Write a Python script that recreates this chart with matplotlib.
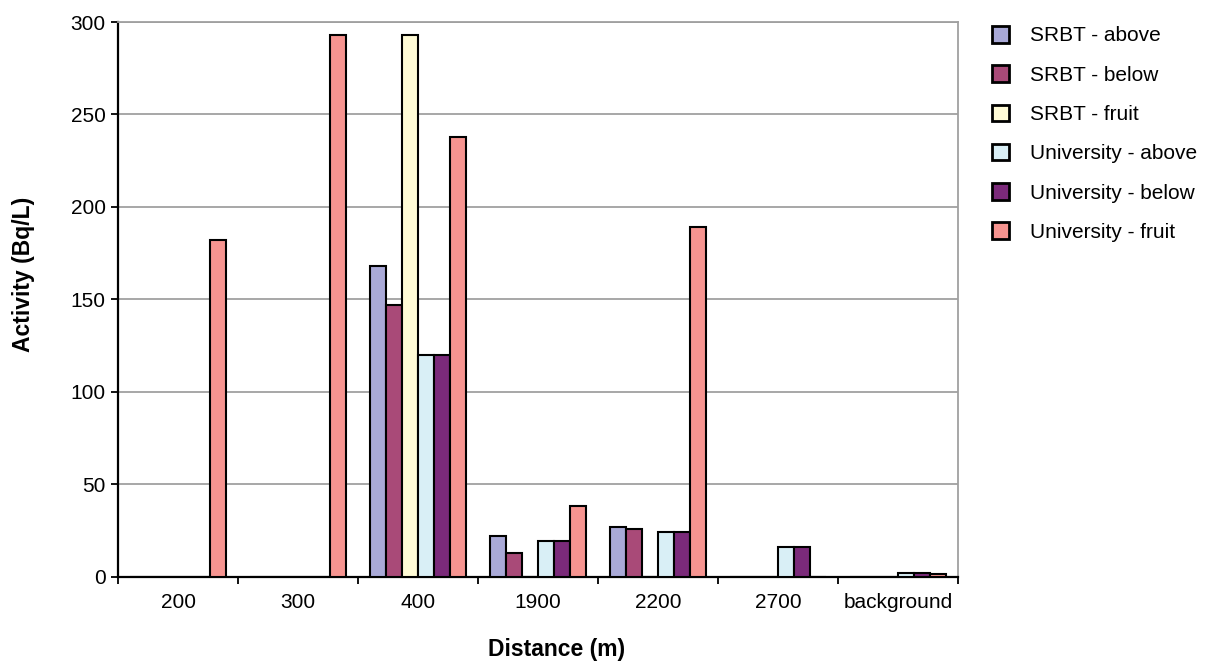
import numpy as np
import matplotlib
matplotlib.use('Agg')
import matplotlib.pyplot as plt

plt.rcParams['font.family'] = ['Liberation Sans', 'DejaVu Sans']

categories = ['200', '300', '400', '1900', '2200', '2700', 'background']
srbt_above = [0, 0, 168, 22, 27, 0, 0]
srbt_below = [0, 0, 147, 13, 26, 0, 0]
srbt_fruit = [0, 0, 293, 0, 0, 0, 0]
univ_above = [0, 0, 120, 19.5, 24.5, 16, 2]
univ_below = [0, 0, 120, 19.5, 24.5, 16, 2]
univ_fruit = [182, 293, 238, 38.5, 189, 0, 1.5]

series = [
    ('SRBT - above', srbt_above, '#A9A9D7'),
    ('SRBT - below', srbt_below, '#A94A78'),
    ('SRBT - fruit', srbt_fruit, '#FFFBD6'),
    ('University - above', univ_above, '#D9EFF6'),
    ('University - below', univ_below, '#7B2A7A'),
    ('University - fruit', univ_fruit, '#F69490'),
]

fig = plt.figure(figsize=(12.08, 6.63), dpi=100)
ax = fig.add_axes([0.0977, 0.130, 0.6953, 0.8368])

x = np.arange(len(categories))
w = 0.8 / len(series)
for i, (name, vals, col) in enumerate(series):
    ax.bar(x - 0.4 + w * (i + 0.5), vals, width=w, color=col,
           edgecolor='black', linewidth=1.5, label=name, zorder=3)

ax.set_xlim(-0.5, len(categories) - 0.5)
ax.set_ylim(0, 300)
ax.set_yticks(range(0, 301, 50))
ax.yaxis.grid(True, color='#A0A0A0', linewidth=1.3, zorder=0)

ax.set_xticks(x)
ax.set_xticklabels(categories, fontsize=15)
ax.tick_params(axis='x', which='major', length=0, pad=12)
ax.set_xticks(np.arange(-0.5, len(categories), 1), minor=True)
ax.tick_params(axis='x', which='minor', length=5, width=1.3, direction='out')
ax.tick_params(axis='y', labelsize=15, length=5, width=1.3, pad=4)

for s in ['top', 'right']:
    ax.spines[s].set_color('#A0A0A0')
    ax.spines[s].set_linewidth(1.3)
for s in ['left', 'bottom']:
    ax.spines[s].set_color('black')
    ax.spines[s].set_linewidth(1.6)

ax.set_ylabel('Activity (Bq/L)', fontsize=16.5, fontweight='bold')
ax.yaxis.set_label_coords(-0.112, 0.545)
ax.yaxis.label.set_ha('center')
ax.yaxis.label.set_va('center')
ax.set_xlabel('Distance (m)', fontsize=16.5, fontweight='bold')
ax.xaxis.set_label_coords(0.5226, -0.1315)
ax.xaxis.label.set_va('center')

leg = ax.legend(loc='upper left', bbox_to_anchor=(1.04, 0.993), frameon=False,
                fontsize=15, handlelength=0.85, handleheight=0.85,
                labelspacing=0.95, handletextpad=1.0, borderaxespad=0,
                borderpad=0)
for h in leg.legend_handles:
    h.set_linewidth(2)

fig.savefig('out.png', dpi=100)
